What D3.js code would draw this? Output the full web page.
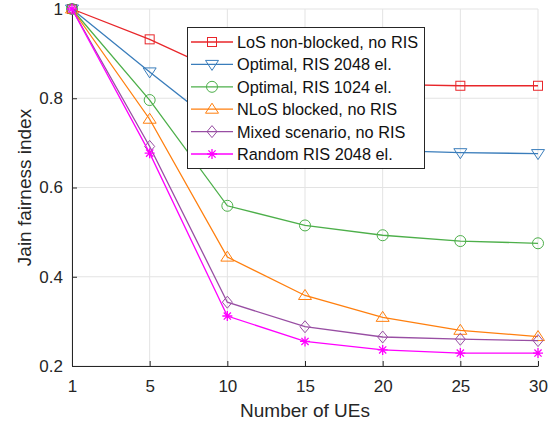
<!DOCTYPE html>
<html lang="en">
<head>
<meta charset="UTF-8">
<title>Jain fairness index</title>
<script src="https://d3js.org/d3.v7.min.js"></script>
<style>
  body { margin: 0; background: #fff; font-family: "Liberation Sans", Arial, sans-serif; }
  svg { display: block; }
</style>
</head>
<body>
<svg id="chart"></svg>
<script>
const numUEs = ["1", "5", "10", "15", "20", "25", "30"];
const yTicks = [0.2, 0.4, 0.6, 0.8, 1];

const losNonBlocked = [1, 0.932, 0.852, 0.836, 0.831, 0.828, 0.828];
const optimal2048   = [1, 0.859, 0.722, 0.693, 0.683, 0.678, 0.676];
const optimal1024   = [1, 0.796, 0.559, 0.515, 0.493, 0.480, 0.475];
const nlosBlocked   = [1, 0.753, 0.444, 0.358, 0.309, 0.280, 0.266];
const mixedNoRis    = [1, 0.692, 0.343, 0.288, 0.265, 0.260, 0.257];
const random2048    = [1, 0.677, 0.312, 0.255, 0.236, 0.229, 0.229];

const series = [
  { name: "LoS non-blocked, no RIS",  values: losNonBlocked, color: "#e8262a", marker: "square" },
  { name: "Optimal, RIS 2048 el.",    values: optimal2048,   color: "#3a7dbb", marker: "triDown" },
  { name: "Optimal, RIS 1024 el.",    values: optimal1024,   color: "#4daf4a", marker: "circle" },
  { name: "NLoS blocked, no RIS",     values: nlosBlocked,   color: "#ff7f0e", marker: "triUp" },
  { name: "Mixed scenario, no RIS",   values: mixedNoRis,    color: "#984ea3", marker: "diamond" },
  { name: "Random RIS 2048 el.",      values: random2048,    color: "#ff00ff", marker: "star" }
];

const W = 558, H = 433;
const margin = { top: 9, right: 20, bottom: 67, left: 72 };
const iw = W - margin.left - margin.right;
const ih = H - margin.top - margin.bottom;

const svg = d3.select("#chart").attr("width", W).attr("height", H);
const g = svg.append("g").attr("transform", `translate(${margin.left},${margin.top})`);

const x = d3.scalePoint().domain(numUEs).range([0, iw]);
const y = d3.scaleLinear().domain([0.2, 1]).range([ih, 0]);

// grid
g.append("g").selectAll("line").data(numUEs).join("line")
  .attr("x1", d => x(d)).attr("x2", d => x(d)).attr("y1", 0).attr("y2", ih)
  .attr("stroke", "#e3e3e3").attr("stroke-width", 1);
g.append("g").selectAll("line").data(yTicks).join("line")
  .attr("x1", 0).attr("x2", iw).attr("y1", d => y(d)).attr("y2", d => y(d))
  .attr("stroke", "#e3e3e3").attr("stroke-width", 1);

// axes (ticks pointing inward, matlab style)
const xAxis = g.append("g").attr("transform", `translate(0,${ih})`)
  .call(d3.axisBottom(x).tickSizeInner(-5).tickSizeOuter(0).tickPadding(14));
const yAxis = g.append("g")
  .call(d3.axisLeft(y).tickValues(yTicks).tickFormat(d3.format("~g")).tickSizeInner(-5).tickSizeOuter(0).tickPadding(9));
[xAxis, yAxis].forEach(a => {
  a.select(".domain").attr("stroke", "#262626").attr("stroke-width", 1);
  a.selectAll(".tick line").attr("stroke", "#262626");
  a.selectAll(".tick text").attr("fill", "#262626")
    .style("font-size", "17px").style("font-family", "Liberation Sans, Arial, sans-serif");
});

g.append("text").attr("x", iw / 2).attr("y", ih + 51)
  .attr("text-anchor", "middle").attr("fill", "#262626")
  .style("font-size", "19px").text("Number of UEs");
g.append("text").attr("transform", `translate(${-41},${ih / 2}) rotate(-90)`)
  .attr("text-anchor", "middle").attr("fill", "#262626")
  .style("font-size", "19px").text("Jain fairness index");

function drawMarker(sel, type, color) {
  const s = 5;
  if (type === "square") {
    sel.append("rect").attr("x", -s + 0.5).attr("y", -s + 0.5).attr("width", 2 * s - 1).attr("height", 2 * s - 1)
      .attr("fill", "none").attr("stroke", color);
  } else if (type === "circle") {
    sel.append("circle").attr("r", s + 0.5).attr("fill", "none").attr("stroke", color);
  } else if (type === "triDown") {
    sel.append("path").attr("d", `M${-s - 1.5},${-s + 1}L${s + 1.5},${-s + 1}L0,${s + 1}Z`)
      .attr("fill", "none").attr("stroke", color);
  } else if (type === "triUp") {
    sel.append("path").attr("d", `M${-s - 1.5},${s - 1}L${s + 1.5},${s - 1}L0,${-s - 1}Z`)
      .attr("fill", "none").attr("stroke", color);
  } else if (type === "diamond") {
    sel.append("path").attr("d", `M0,${-s - 1}L${s},0L0,${s + 1}L${-s},0Z`)
      .attr("fill", "none").attr("stroke", color);
  } else if (type === "star") {
    const r = s;
    const d = r * 0.72;
    sel.append("path").attr("d", `M${-r},0L${r},0M0,${-r}L0,${r}M${-d},${-d}L${d},${d}M${-d},${d}L${d},${-d}`)
      .attr("fill", "none").attr("stroke", color).attr("stroke-width", 1.3);
  }
}

const line = d3.line().x((d, i) => x(numUEs[i])).y(d => y(d));

series.forEach(s => {
  const sg = g.append("g");
  sg.append("path").datum(s.values).attr("d", line)
    .attr("fill", "none").attr("stroke", s.color).attr("stroke-width", 1.3);
  s.values.forEach((v, i) => {
    const m = sg.append("g").attr("transform", `translate(${x(numUEs[i])},${y(v)})`);
    drawMarker(m, s.marker, s.color);
  });
});

// legend
const lg = svg.append("g").attr("transform", "translate(187,27)");
lg.append("rect").attr("x", 0.5).attr("y", 0.5).attr("width", 237).attr("height", 141)
  .attr("fill", "#fff").attr("stroke", "#262626").attr("stroke-width", 1);
series.forEach((s, i) => {
  const row = lg.append("g").attr("transform", `translate(0,${15 + i * 22.4})`);
  row.append("line").attr("x1", 4).attr("x2", 46).attr("y1", 0).attr("y2", 0)
    .attr("stroke", s.color).attr("stroke-width", 1.3);
  drawMarker(row.append("g").attr("transform", "translate(25,0)"), s.marker, s.color);
  row.append("text").attr("x", 50).attr("y", 6).attr("fill", "#111")
    .style("font-size", "16.3px").text(s.name);
});
</script>
</body>
</html>
